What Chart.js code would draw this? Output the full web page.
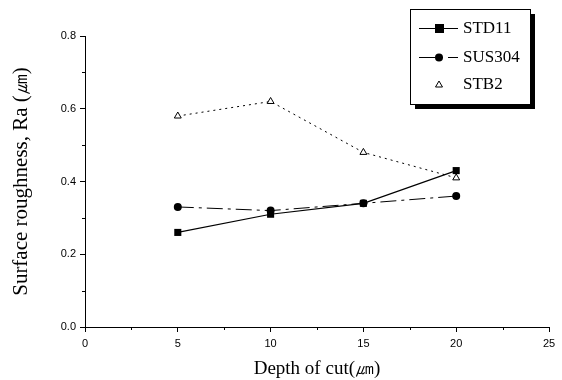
<!DOCTYPE html>
<html><head><meta charset="utf-8">
<script src="https://cdn.jsdelivr.net/npm/chart.js@4/dist/chart.umd.min.js"></script>
<style>html,body{margin:0;padding:0;background:#fff}canvas{display:block}</style>
</head><body>
<canvas id="c" width="562" height="380"></canvas>
<script>
const depths = [5, 10, 15, 20];
const std11 = [0.26, 0.31, 0.34, 0.43];
const sus304 = [0.33, 0.32, 0.34, 0.36];
const stb2 = [0.58, 0.62, 0.48, 0.41];
const seriesNames = ['STD11', 'SUS304', 'STB2'];
const yTicks = [0, 0.2, 0.4, 0.6, 0.8];
const xTicks = [0, 5, 10, 15, 20, 25];

const toPts = (arr) => depths.map((d, i) => ({x: d, y: arr[i]}));

const minorTicks = {
  id: 'minorTicks',
  afterDraw(chart) {
    const ctx = chart.ctx, xs = chart.scales.x, ys = chart.scales.y;
    ctx.save(); ctx.strokeStyle = '#000'; ctx.lineWidth = 1;
    for (let v = 0.1; v < 0.8; v += 0.2) {
      const p = Math.round(ys.getPixelForValue(v)) + 0.5;
      ctx.beginPath(); ctx.moveTo(xs.left - 3, p); ctx.lineTo(xs.left, p); ctx.stroke();
    }
    for (let v = 2.5; v < 25; v += 5) {
      const p = Math.round(xs.getPixelForValue(v)) + 0.5;
      ctx.beginPath(); ctx.moveTo(p, ys.bottom); ctx.lineTo(p, ys.bottom + 3); ctx.stroke();
    }
    ctx.restore();
  }
};

const boxLegend = {
  id: 'boxLegend',
  afterDraw(chart) {
    const ctx = chart.ctx;
    const L = 410, T = 9, W = 120, H = 95;
    ctx.save();
    ctx.fillStyle = '#000';
    ctx.fillRect(L + 5, T + H, W, 5);
    ctx.fillRect(L + W, T + 5, 5, H);
    ctx.fillStyle = '#fff';
    ctx.fillRect(L, T, W, H);
    ctx.strokeStyle = '#000'; ctx.lineWidth = 1;
    ctx.strokeRect(L + 0.5, T + 0.5, W, H);
    const rows = [28, 57, 84];
    chart.data.datasets.forEach((ds, i) => {
      const y = rows[i];
      const mx = 439;
      ctx.strokeStyle = '#000'; ctx.lineWidth = 1;
      if (i !== 2) {
        ctx.setLineDash(ds.borderDash || []);
        ctx.beginPath(); ctx.moveTo(419, y + 0.5); ctx.lineTo(458, y + 0.5); ctx.stroke();
        ctx.setLineDash([]);
      }
      ctx.fillStyle = '#000';
      if (ds.pointStyle === 'rect') { ctx.fillRect(mx - 4, y - 4, 9, 9); }
      else if (ds.pointStyle === 'circle') { ctx.beginPath(); ctx.arc(mx, y + 0.5, 4, 0, Math.PI * 2); ctx.fill(); }
      else { ctx.beginPath(); ctx.moveTo(mx, y - 3); ctx.lineTo(mx + 3.5, y + 3); ctx.lineTo(mx - 3.5, y + 3); ctx.closePath(); ctx.stroke(); }
      ctx.fillStyle = '#000';
      ctx.font = '17px "Liberation Serif", serif';
      ctx.textBaseline = 'middle';
      ctx.fillText(ds.label, 463, y + 1);
    });
    ctx.restore();
  }
};

new Chart(document.getElementById('c'), {
  type: 'scatter',
  data: {
    datasets: [
      { label: seriesNames[0], data: toPts(std11), showLine: true, borderColor: '#000', backgroundColor: '#000',
        borderWidth: 1.2, pointStyle: 'rect', pointRadius: 5, pointBorderWidth: 0 },
      { label: seriesNames[1], data: toPts(sus304), showLine: true, borderColor: '#000', backgroundColor: '#000',
        borderWidth: 1, borderDash: [16, 5, 3, 5], pointStyle: 'circle', pointRadius: 4, pointBorderWidth: 0 },
      { label: seriesNames[2], data: toPts(stb2), showLine: true, borderColor: '#000', backgroundColor: '#fff',
        borderWidth: 1, borderDash: [2, 4], pointStyle: 'triangle', pointRadius: 4, pointBorderWidth: 1, pointBorderColor: '#000' }
    ]
  },
  options: {
    responsive: false,
    animation: false,
    layout: { padding: { left: 0, right: 13, top: 36, bottom: 0 } },
    plugins: { legend: { display: false }, tooltip: { enabled: false } },
    scales: {
      x: {
        type: 'linear', min: 0, max: 25,
        afterBuildTicks: (s) => { s.ticks = xTicks.map(v => ({value: v})); },
        afterFit: (s) => { s.height = 53; },
        grid: { drawOnChartArea: false, drawTicks: true, tickLength: 5, color: '#000' },
        border: { display: true, color: '#000', width: 1 },
        ticks: { color: '#000', font: { family: '"Liberation Sans", Arial, sans-serif', size: 11 }, padding: 5, maxRotation: 0 },
        title: { display: true, text: 'Depth of cut(㎛)', color: '#000',
          font: { family: '"Liberation Serif", "Times New Roman", serif', size: 19 }, padding: { top: 0, bottom: 0 } }
      },
      y: {
        type: 'linear', min: 0, max: 0.8,
        afterBuildTicks: (s) => { s.ticks = yTicks.map(v => ({value: v})); },
        afterFit: (s) => { s.width = 85; },
        grid: { drawOnChartArea: false, drawTicks: true, tickLength: 5, color: '#000' },
        border: { display: true, color: '#000', width: 1 },
        ticks: { color: '#000', font: { family: '"Liberation Sans", Arial, sans-serif', size: 11 }, padding: 4,
          callback: (v) => v.toFixed(1) },
        title: { display: true, text: 'Surface roughness, Ra (㎛)', color: '#000',
          font: { family: '"Liberation Serif", "Times New Roman", serif', size: 21 }, padding: { top: 9, bottom: 0 } }
      }
    }
  },
  plugins: [minorTicks, boxLegend]
});
</script>
</body></html>
